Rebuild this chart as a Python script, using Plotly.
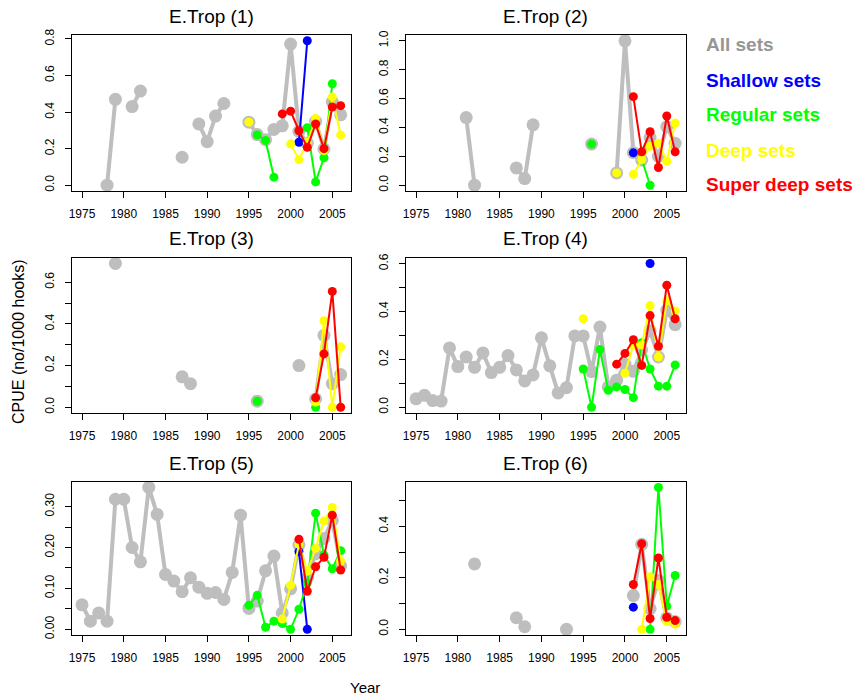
import plotly.graph_objects as go

N = None
YEARS = list(range(1975, 2007))
XTICKS = [1975, 1980, 1985, 1990, 1995, 2000, 2005]
TITLES = ["E.Trop (1)", "E.Trop (2)", "E.Trop (3)", "E.Trop (4)", "E.Trop (5)", "E.Trop (6)"]
SERIES_NAMES = ["All sets", "Shallow sets", "Regular sets", "Deep sets", "Super deep sets"]
COLORS = ["#BEBEBE", "#0000FF", "#00FF00", "#FFFF00", "#FF0000"]
LEGEND_COLORS = ["#969696", "#0000FF", "#00FF00", "#FFFF00", "#FF0000"]
X_TITLE = "Year"
Y_TITLE = "CPUE (no/1000 hooks)"

EMPTY = [N] * 32

# ---- Panel 1 (values for 1975..2006) ----
p1_all = [N, N, N, 0.0, 0.47, N, 0.43, 0.515,
          N, N, N, N, 0.153, N, 0.335, 0.238,
          0.378, 0.447, N, N, 0.345, 0.277, 0.249, 0.305,
          0.325, 0.772, 0.295, 0.23, 0.35, 0.198, 0.455, 0.385]
p1_shallow = [N] * 26 + [0.235, 0.79, N, N, N, N]
p1_regular = [N] * 21 + [0.275, 0.245, 0.044,
                         N, N, N, 0.315, 0.018, 0.15, 0.555, N]
p1_deep = [N] * 20 + [0.345, N, N, N,
                      N, 0.225, 0.14, 0.235, 0.365, 0.19, 0.483, 0.275]
p1_superdeep = [N] * 24 + [0.39, 0.405, 0.298, 0.207, 0.335, 0.2, 0.428, 0.435]

# ---- Panel 2 ----
p2_all = [N, N, N, N, N, N, 0.468, 0.0,
          N, N, N, N, 0.12, 0.046, 0.418, N,
          N, N, N, N, N, 0.285, N, N,
          0.085, 1.0, 0.225, 0.174, 0.33, 0.2, 0.405, 0.29]
p2_shallow = [N] * 26 + [0.224, N, N, N, N, N]
p2_regular = [N] * 21 + [0.285, N, N,
                         N, N, N, 0.18, 0.0, N, N, N]
p2_deep = [N] * 24 + [0.085, N, 0.076, 0.178, 0.27, 0.29, 0.167, 0.43]
p2_superdeep = [N] * 24 + [N, N, 0.613, 0.231, 0.37, 0.123, 0.479, 0.231]

# ---- Panel 3 ----
p3_all = [N, N, N, N, 0.69, N, N, N,
          N, N, N, N, 0.146, 0.113, N, N,
          N, N, N, N, N, 0.029, N, N,
          N, N, 0.2, N, 0.04, 0.345, 0.113, 0.157]
p3_shallow = EMPTY
p3_regular = [N] * 21 + [0.029, N, N,
                         N, N, N, N, 0.0, N, N, N]
p3_deep = [N] * 28 + [0.025, 0.415, 0.0, 0.29]
p3_superdeep = [N] * 28 + [0.045, 0.256, 0.556, 0.0]

# ---- Panel 4 ----
p4_all = [0.035, 0.05, 0.028, 0.026, 0.248, 0.17, 0.21, 0.167,
          0.227, 0.145, 0.167, 0.216, 0.156, 0.11, 0.135, 0.29,
          0.173, 0.06, 0.082, 0.298, 0.298, 0.149, 0.335, 0.085,
          0.113, 0.18, 0.15, 0.24, 0.32, 0.21, 0.405, 0.345]
p4_shallow = [N] * 28 + [0.601, N, N, N]
p4_regular = [N] * 20 + [0.16, 0.0, 0.241, 0.071,
                         0.085, 0.074, 0.04, 0.27, 0.16, 0.088, 0.088, 0.177]
p4_deep = [N] * 20 + [0.37, N, N, N,
                      N, 0.142, 0.26, 0.26, 0.425, 0.21, 0.445, 0.402]
p4_superdeep = [N] * 24 + [0.18, 0.225, 0.282, 0.175, 0.383, 0.255, 0.51, 0.37]

# ---- Panel 5 ----
p5_all = [0.06, 0.02, 0.04, 0.02, 0.318, 0.318, 0.2, 0.165,
          0.347, 0.281, 0.134, 0.118, 0.092, 0.126, 0.103, 0.088,
          0.09, 0.073, 0.139, 0.279, 0.051, 0.069, 0.143, 0.179,
          0.04, 0.099, 0.206, 0.125, 0.185, 0.222, 0.266, 0.155]
p5_shallow = [N] * 26 + [0.19, 0.0, N, N, N, N]
p5_regular = [N] * 20 + [0.059, 0.083, 0.005, 0.02,
                         0.014, 0.0, 0.049, 0.113, 0.284, 0.182, 0.148, 0.192]
p5_deep = [N] * 24 + [0.025, 0.108, 0.208, 0.142, 0.198, 0.265, 0.298, 0.167]
p5_superdeep = [N] * 24 + [N, N, 0.22, 0.093, 0.153, 0.176, 0.279, 0.145]

# ---- Panel 6 ----
p6_all = [N, N, N, N, N, N, N, 0.254,
          N, N, N, N, 0.045, 0.01, N, N,
          N, N, 0.0, N, N, N, N, N,
          N, N, 0.131, 0.33, 0.08, 0.19, 0.045, 0.03]
p6_shallow = [N] * 26 + [0.086, N, N, N, N, N]
p6_regular = [N] * 28 + [0.0, 0.551, 0.09, 0.209]
p6_deep = [N] * 27 + [0.0, 0.204, 0.174, 0.03, 0.02]
p6_superdeep = [N] * 26 + [0.174, 0.332, 0.042, 0.277, 0.047, 0.034]

PANELS = [
    [p1_all, p1_shallow, p1_regular, p1_deep, p1_superdeep],
    [p2_all, p2_shallow, p2_regular, p2_deep, p2_superdeep],
    [p3_all, p3_shallow, p3_regular, p3_deep, p3_superdeep],
    [p4_all, p4_shallow, p4_regular, p4_deep, p4_superdeep],
    [p5_all, p5_shallow, p5_regular, p5_deep, p5_superdeep],
    [p6_all, p6_shallow, p6_regular, p6_deep, p6_superdeep],
]

YTICKVALS = [
    [0.0, 0.2, 0.4, 0.6, 0.8],
    [0.0, 0.2, 0.4, 0.6, 0.8, 1.0],
    [0.0, 0.1, 0.2, 0.3, 0.4, 0.5, 0.6],
    [0.0, 0.1, 0.2, 0.3, 0.4, 0.5, 0.6],
    [0.0, 0.05, 0.10, 0.15, 0.20, 0.25, 0.30],
    [0.0, 0.1, 0.2, 0.3, 0.4, 0.5],
]
YTICKTEXT = [
    ["0.0", "0.2", "0.4", "0.6", "0.8"],
    ["0.0", "0.2", "0.4", "0.6", "0.8", "1.0"],
    ["0.0", "", "0.2", "", "0.4", "", "0.6"],
    ["0.0", "", "0.2", "", "0.4", "", "0.6"],
    ["0.00", "", "0.10", "", "0.20", "", "0.30"],
    ["0.0", "", "0.2", "", "0.4", ""],
]

W, H = 856, 700
COL_PX = [(71.7, 351.0), (405.7, 685.5)]
ROW_PX = [(35.0, 191.0), (257.7, 413.0), (481.7, 635.0)]
TITLE_Y_PX = [16.5, 238.5, 463.5]

FONT = "Liberation Sans, Arial, Helvetica, sans-serif"

fig = go.Figure()
layout = dict(
    width=W, height=H, margin=dict(l=0, r=0, t=0, b=0, autoexpand=False),
    paper_bgcolor="white", plot_bgcolor="white", showlegend=False,
    font=dict(family=FONT, color="black", size=12),
)
annotations = []

span = YEARS[-1] - YEARS[0]
xr = [YEARS[0] - 0.04 * span, YEARS[-1] + 0.04 * span]

for i, series in enumerate(PANELS):
    r, c = divmod(i, 2)
    k = i + 1
    xa = "x" if k == 1 else f"x{k}"
    ya = "y" if k == 1 else f"y{k}"
    for j, vals in enumerate(series):
        big = j == 0
        fig.add_trace(go.Scatter(
            x=YEARS, y=vals, xaxis=xa, yaxis=ya, mode="lines+markers",
            name=SERIES_NAMES[j], connectgaps=False,
            line=dict(color=COLORS[j], width=4 if big else 2),
            marker=dict(color=COLORS[j], size=13 if big else 9),
            hoverinfo="x+y",
        ))
    allv = [v for s in series for v in s if v is not None]
    lo, hi = min(allv), max(allv)
    pad = 0.04 * (hi - lo)
    x0, x1 = COL_PX[c]
    y0, y1 = ROW_PX[r]
    xdom = [x0 / W, x1 / W]
    ydom = [1 - y1 / H, 1 - y0 / H]
    layout["xaxis" if k == 1 else f"xaxis{k}"] = dict(
        domain=xdom, anchor=ya, range=xr, tickvals=XTICKS,
        ticktext=[str(t) for t in XTICKS], automargin=False,
        showgrid=False, zeroline=False, showline=True, mirror=True,
        linecolor="black", linewidth=1, ticks="outside", ticklen=6,
        tickcolor="black", tickfont=dict(size=12, family=FONT),
        ticklabelstandoff=6,
    )
    layout["yaxis" if k == 1 else f"yaxis{k}"] = dict(
        domain=ydom, anchor=xa, range=[lo - pad, hi + pad],
        tickvals=YTICKVALS[i], ticktext=YTICKTEXT[i], automargin=False,
        showgrid=False, zeroline=False, showline=True, mirror=True,
        linecolor="black", linewidth=1, ticks="outside", ticklen=6,
        tickcolor="black", tickfont=dict(size=12, family=FONT),
        tickangle=-90, ticklabelstandoff=6,
    )
    annotations.append(dict(
        text=TITLES[i], x=(xdom[0] + xdom[1]) / 2, y=1 - TITLE_Y_PX[r] / H,
        xref="paper", yref="paper", xanchor="center", yanchor="middle",
        showarrow=False, font=dict(size=19, family=FONT, color="black"),
    ))

LEG_Y_PX = [45, 80, 115, 150, 184]
for name, col, yp in zip(SERIES_NAMES, LEGEND_COLORS, LEG_Y_PX):
    annotations.append(dict(
        text=f"<b>{name}</b>", x=704 / W, y=1 - yp / H, xref="paper", yref="paper",
        xanchor="left", yanchor="middle", showarrow=False,
        font=dict(size=19, family=FONT, color=col),
    ))

annotations.append(dict(
    text=X_TITLE, x=365 / W, y=1 - 687 / H, xref="paper", yref="paper",
    xanchor="center", yanchor="middle", showarrow=False,
    font=dict(size=15, family=FONT, color="black"),
))
annotations.append(dict(
    text=Y_TITLE, x=18 / W, y=1 - 342 / H, xref="paper", yref="paper",
    xanchor="center", yanchor="middle", showarrow=False, textangle=-90,
    font=dict(size=16, family=FONT, color="black"),
))

layout["annotations"] = annotations
fig.update_layout(**layout)
fig.write_html(
    "out.html",
    config={"displayModeBar": False},
    post_script="document.body.style.margin='0';document.body.style.overflow='hidden';",
)
